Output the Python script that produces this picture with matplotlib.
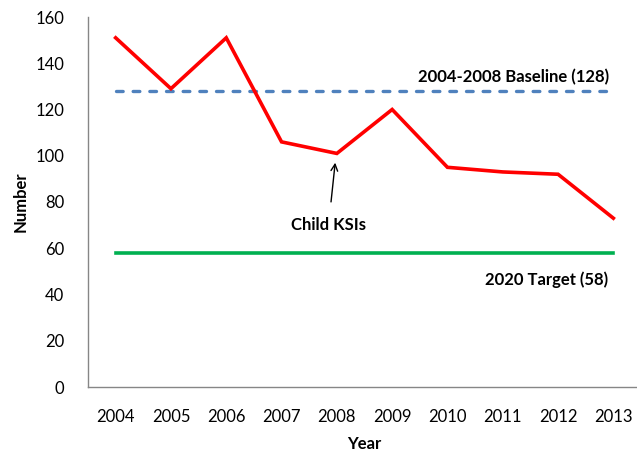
import matplotlib.pyplot as plt
import numpy as np

plt.rcParams['font.family'] = ['Lato', 'DejaVu Sans']

years = ['2004', '2005', '2006', '2007', '2008', '2009', '2010', '2011', '2012', '2013']
child_ksi = [151, 129, 151, 106, 101, 120, 95, 93, 92, 73]
baseline = 128
target = 58

x = np.arange(len(years))

fig = plt.figure(figsize=(6.37, 4.54), dpi=100)
fig.patch.set_facecolor('white')
ax = fig.add_axes([88/637, 67/454, 553/637, 370/454])

ax.plot(x, [baseline]*len(x), color='#4f81bd', lw=2.4, ls=(0, (2, 3)), dash_capstyle='round')
ax.plot(x, [target]*len(x), color='#00b050', lw=2.6)
ax.plot(x, child_ksi, color='#ff0000', lw=2.6, solid_joinstyle='miter')

ax.set_xlim(-0.5, 9.5)
ax.set_ylim(0, 160)
ax.set_yticks(range(0, 161, 20))
ax.set_xticks(x)
ax.set_xticklabels(years)
ax.tick_params(axis='both', length=0, labelsize=12)
ax.tick_params(axis='y', pad=17)
ax.tick_params(axis='x', pad=16)

for s in ['top', 'right']:
    ax.spines[s].set_visible(False)
for s in ['left', 'bottom']:
    ax.spines[s].set_color('#868686')
    ax.spines[s].set_linewidth(1)

ax.set_xlabel('Year', fontsize=12, fontweight='bold', labelpad=8)
ax.set_ylabel('Number', fontsize=12, fontweight='bold', labelpad=5)

ax.text(7.2, 134, '2004-2008 Baseline (128)', fontsize=12, fontweight='bold', ha='center', va='center')
ax.text(7.8, 46.5, '2020 Target (58)', fontsize=12, fontweight='bold', ha='center', va='center')
ax.annotate('Child KSIs', xy=(3.97, 97), xytext=(3.85, 70),
            fontsize=12, fontweight='bold', ha='center', va='center',
            arrowprops=dict(arrowstyle='->', color='black', lw=1, shrinkA=9, shrinkB=0))

fig.savefig('out.png')
